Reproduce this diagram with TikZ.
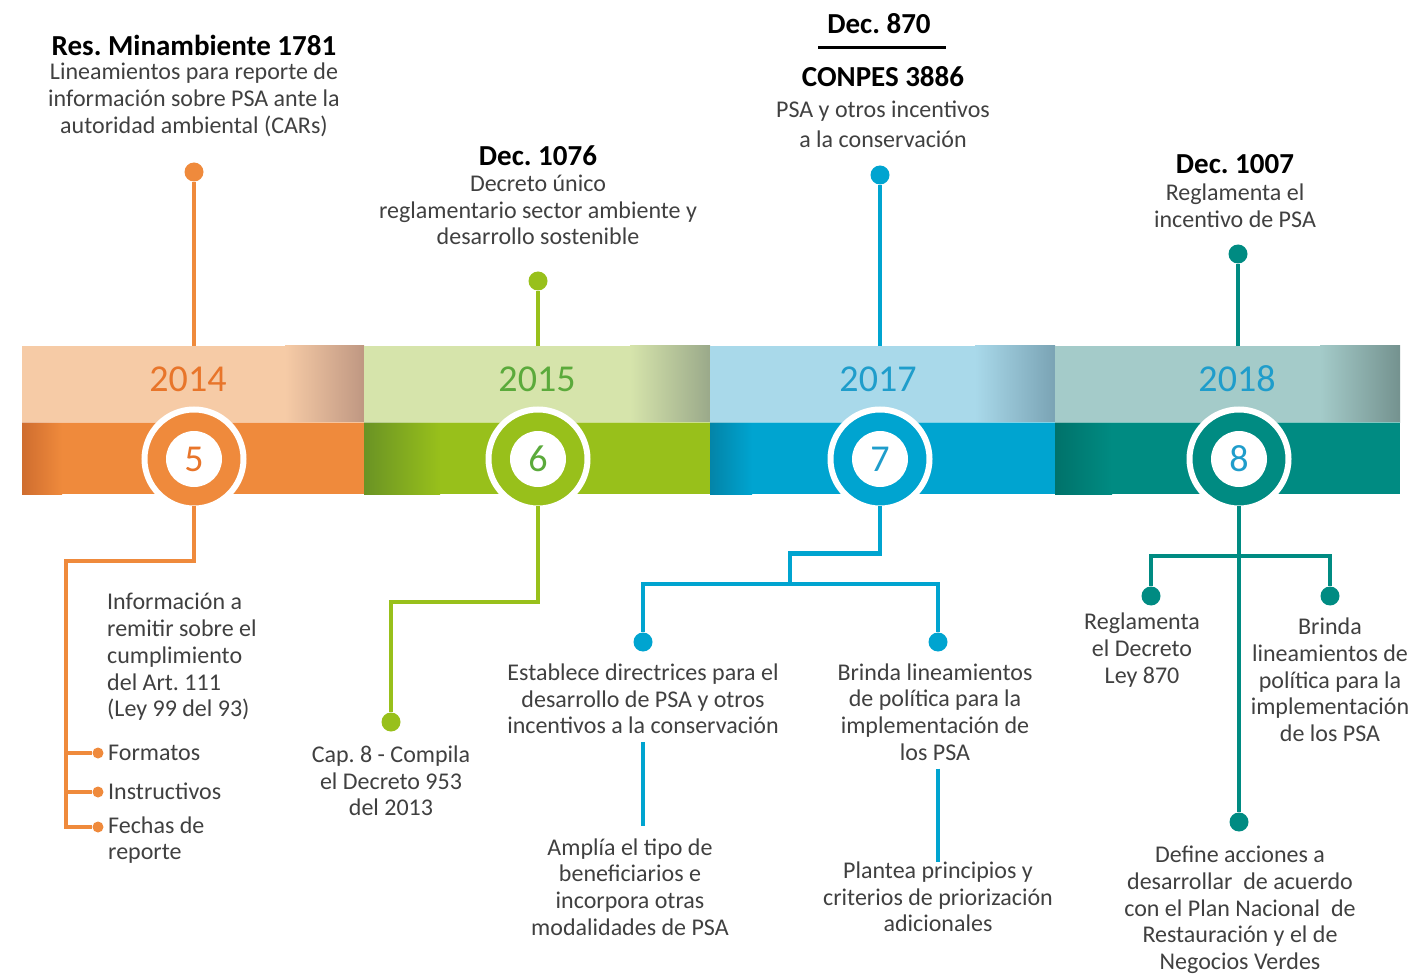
\documentclass[tikz,border=0pt]{standalone}
\usepackage{fontspec}
\setmainfont{Carlito}
\frenchspacing

\definecolor{orDark}{HTML}{EF8A3C}
\definecolor{orDarkEnd}{HTML}{CF6D2F}
\definecolor{orLight}{HTML}{F6CBA6}
\definecolor{orLightEnd}{HTML}{BF9782}
\definecolor{orTxt}{HTML}{E8752A}
\definecolor{grDark}{HTML}{98C01B}
\definecolor{grDarkEnd}{HTML}{6A9324}
\definecolor{grLight}{HTML}{D6E4AB}
\definecolor{grLightEnd}{HTML}{9AA98A}
\definecolor{grTxt}{HTML}{5BAA3B}
\definecolor{blDark}{HTML}{00A4D0}
\definecolor{blDarkEnd}{HTML}{0384A8}
\definecolor{blLight}{HTML}{A9D9EA}
\definecolor{blLightEnd}{HTML}{7AA3B4}
\definecolor{blTxt}{HTML}{1F9DCB}
\definecolor{tlDark}{HTML}{008B82}
\definecolor{tlDarkEnd}{HTML}{00726A}
\definecolor{tlLight}{HTML}{A4CBC9}
\definecolor{tlLightEnd}{HTML}{74928F}
\definecolor{txtGray}{HTML}{404040}

\tikzset{
  txt/.style={text=txtGray, align=center, inner sep=0pt, font=\fontsize{24}{26.7}\selectfont},
  ttl/.style={text=black, inner sep=0pt, font=\fontsize{29}{30}\selectfont\bfseries},
  year/.style={text=#1, inner sep=0pt, font=\fontsize{38}{38}\selectfont},
  ring/.style={circle, fill=#1, draw=white, line width=6pt, minimum size=99pt, inner sep=0pt, outer sep=0pt},
  num/.style={circle, fill=white, text=#1, minimum size=56pt, inner sep=0pt, font=\fontsize{38}{38}\selectfont},
  dot/.style={circle, fill=#1, minimum size=19pt, inner sep=0pt},
  sdot/.style={circle, fill=#1, minimum size=11pt, inner sep=0pt},
  link/.style={draw=#1, line width=4.5pt},
}

\begin{document}
\begin{tikzpicture}[x=1pt, y=-1pt]
  \useasboundingbox (0,0) rectangle (1409,976);

  % band
  \fill[orLight] (22,346) rectangle (364,422);
  \shade[left color=orLight, right color=orLightEnd] (285,346) rectangle (364,422);
  \fill[orDark] (22,422) rectangle (364,494);
  \shade[left color=orDarkEnd, right color=orDark] (22,422) rectangle (62,494);
  \fill[grLight] (364,346) rectangle (710,422);
  \shade[left color=grLight, right color=grLightEnd] (630,346) rectangle (710,422);
  \fill[grDark] (364,422) rectangle (710,494);
  \shade[left color=grDarkEnd, right color=grDark] (364,422) rectangle (440,494);
  \fill[blLight] (710,346) rectangle (1055,422);
  \shade[left color=blLight, right color=blLightEnd] (975,346) rectangle (1055,422);
  \fill[blDark] (710,422) rectangle (1055,494);
  \shade[left color=blDarkEnd, right color=blDark] (710,422) rectangle (752,494);
  \fill[tlLight] (1055,346) rectangle (1400,422);
  \shade[left color=tlLight, right color=tlLightEnd] (1320,346) rectangle (1400,422);
  \fill[tlDark] (1055,422) rectangle (1400,494);
  \shade[left color=tlDarkEnd, right color=tlDark] (1055,422) rectangle (1112,494);
  \draw[white, opacity=.5, line width=1pt] (22,422) -- (1400,422);

  \node[year=orTxt] (y14) at (188,379) {2014};
  \node[year=grTxt] (y15) at (537,379) {2015};
  \node[year=blTxt] (y17) at (878,379) {2017};
  \node[year=blTxt] (y18) at (1237,379) {2018};

  \node[ring=orDark] (c5) at (194,459) {};
  \node[num=orTxt] (n5) at (c5) {5};
  \node[ring=grDark] (c6) at (538,459) {};
  \node[num=grTxt] (n6) at (c6) {6};
  \node[ring=blDark] (c7) at (880,459) {};
  \node[num=blTxt] (n7) at (c7) {7};
  \node[ring=tlDark] (c8) at (1239,459) {};
  \node[num=blTxt] (n8) at (c8) {8};

  % top
  \node[ttl] (res) at (194,45) {Res. Minambiente 1781};
  \node[txt] (resT) at (194,100) {Lineamientos para reporte de\\información sobre PSA ante la\\autoridad ambiental (CARs)};
  \node[dot=orDark] (d1) at (194,172) {};
  \coordinate (t1) at (194,346);
  \draw[link=orDark] (d1) -- (t1);

  \node[ttl] (dec1076) at (538,156) {Dec. 1076};
  \node[txt] (dec1076T) at (538,210) {Decreto único\\reglamentario sector ambiente y\\desarrollo sostenible};
  \node[dot=grDark] (d2) at (538,281) {};
  \coordinate (t2) at (538,346);
  \draw[link=grDark] (d2) -- (t2);

  \node[ttl] (dec870) at (879,24) {Dec. 870};
  \coordinate (r1) at (818,48);
  \coordinate (r2) at (946,48);
  \draw[line width=3pt] (r1) -- (r2);
  \node[ttl] (conpes) at (883,77) {CONPES 3886};
  \node[txt, font=\fontsize{24}{30}\selectfont] (conpesT) at (883,124) {PSA y otros incentivos\\a la conservación};
  \node[dot=blDark] (d3) at (880,175) {};
  \coordinate (t3) at (880,346);
  \draw[link=blDark] (d3) -- (t3);

  \node[ttl] (dec1007) at (1235,164) {Dec. 1007};
  \node[txt] (dec1007T) at (1235,206) {Reglamenta el\\incentivo de PSA};
  \node[dot=tlDark] (d4) at (1238,254) {};
  \coordinate (t4) at (1238,346);
  \draw[link=tlDark] (d4) -- (t4);

  % 2014
  \coordinate (oj) at (66,561);
  \node[sdot=orDark] (f1) at (98,753) {};
  \node[sdot=orDark] (f2) at (98,792) {};
  \node[sdot=orDark] (f3) at (98,827) {};
  \draw[link=orDark] ([yshift=3pt]c5.south) |- (oj) |- (f3);
  \draw[link=orDark] (oj) |- (f1);
  \draw[link=orDark] (oj) |- (f2);
  \node[txt, align=left, anchor=west] (info) at (107,657) {Información a\\remitir sobre el\\cumplimiento\\del Art. 111\\(Ley 99 del 93)};
  \node[txt, anchor=west] (form) at (108,753) {Formatos};
  \node[txt, anchor=west] (instr) at (108,791) {Instructivos};
  \node[txt, align=left, anchor=west] (fech) at (108,840) {Fechas de\\reporte};

  % 2015
  \coordinate (gj) at (538,602);
  \node[dot=grDark] (gd) at (391,722) {};
  \draw[link=grDark] (gd) |- (gj) -- ([yshift=3pt]c6.south);
  \node[txt] (cap) at (391,781) {Cap. 8 - Compila\\el Decreto 953\\del 2013};

  % 2017
  \coordinate (bj) at (790,584);
  \node[dot=blDark] (bdl) at (643,642) {};
  \node[dot=blDark] (bdr) at (938,642) {};
  \draw[link=blDark] ([yshift=3pt]c7.south) -- ++(0,48) -| (bj);
  \draw[link=blDark] (bdl) |- (bj) -| (bdr);
  \node[txt] (estab) at (643,699) {Establece directrices para el\\desarrollo de PSA y otros\\incentivos a la conservación};
  \node[txt] (ampl) at (630,887) {Amplía el tipo de\\beneficiarios e\\incorpora otras\\modalidades de PSA};
  \draw[link=blDark] (estab.south) ++(0,8) -- ++(0,84);
  \node[txt] (brin) at (935,712) {Brinda lineamientos\\de política para la\\implementación de\\los PSA};
  \node[txt] (plan) at (938,897) {Plantea principios y\\criterios de priorización\\adicionales};
  \draw[link=blDark] (brin.south -| plan.north) ++(0,8) -- (plan.north);

  % 2018
  \coordinate (tj) at (1239,556);
  \node[dot=tlDark] (tdl) at (1151,596) {};
  \node[dot=tlDark] (tdr) at (1330,596) {};
  \node[dot=tlDark] (tdb) at (1239,822) {};
  \draw[link=tlDark] ([yshift=3pt]c8.south) -- (tdb);
  \draw[link=tlDark] (tdl) |- (tj) -| (tdr);
  \node[txt] (regl) at (1142,650) {Reglamenta\\el Decreto\\Ley 870};
  \node[txt] (brin2) at (1330,680) {Brinda\\lineamientos de\\política para la\\implementación\\de los PSA};
  \node[txt] (defi) at (1240,910) {Define acciones a\\desarrollar~ de acuerdo\\con el Plan Nacional~ de\\Restauración y el de\\Negocios Verdes};
\end{tikzpicture}
\end{document}
